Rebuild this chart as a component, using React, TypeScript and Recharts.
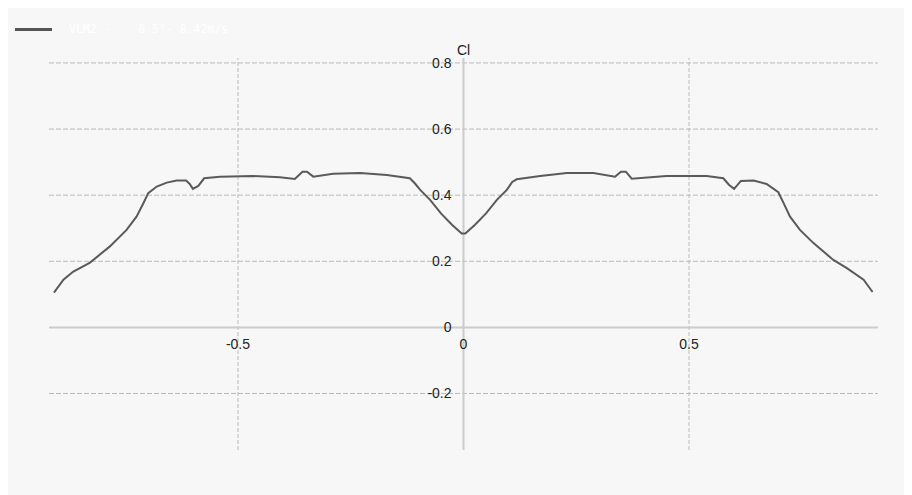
import React from 'react';
import { LineChart, Line, XAxis, YAxis, ReferenceLine } from 'recharts';

// spanwise position (y/b) and local lift coefficient
const spanX = [
  -0.908, -0.887, -0.865, -0.828, -0.784, -0.747, -0.725, -0.71, -0.699, -0.68,
  -0.658, -0.636, -0.615, -0.607, -0.6, -0.588, -0.575, -0.54, -0.466, -0.407,
  -0.374, -0.357, -0.347, -0.333, -0.289, -0.229, -0.17, -0.119, -0.108, -0.096,
  -0.074, -0.05, -0.025, -0.004, 0.004, 0.025, 0.05, 0.074, 0.096, 0.108,
  0.118, 0.17, 0.229, 0.288, 0.336, 0.349, 0.36, 0.373, 0.45, 0.539,
  0.576, 0.589, 0.6, 0.615, 0.643, 0.672, 0.698, 0.71, 0.724, 0.746,
  0.776, 0.82, 0.85, 0.887, 0.907,
];
const clValues = [
  0.105, 0.144, 0.169, 0.196, 0.245, 0.295, 0.335, 0.375, 0.406, 0.426,
  0.438, 0.444, 0.444, 0.434, 0.419, 0.428, 0.451, 0.456, 0.458, 0.454,
  0.449, 0.471, 0.471, 0.456, 0.465, 0.467, 0.461, 0.451, 0.436, 0.416,
  0.386, 0.345, 0.31, 0.284, 0.284, 0.31, 0.345, 0.386, 0.416, 0.44,
  0.448, 0.458, 0.467, 0.467, 0.456, 0.471, 0.471, 0.45, 0.458, 0.458,
  0.451, 0.431, 0.419, 0.443, 0.444, 0.434, 0.409, 0.375, 0.335, 0.295,
  0.255, 0.204, 0.179, 0.144, 0.107,
];
const xTicks = [-0.5, 0, 0.5];
const yTicks = [-0.2, 0, 0.2, 0.4, 0.6, 0.8];
const legendLabel = 'VLM2 -    8.5°- 8.42m/s';

const data = spanX.map((x, i) => ({ x, cl: clValues[i] }));

const W = 904;
const H = 487;
const margin = { top: 50, right: 34, bottom: 44, left: 40 };
const xDomain: [number, number] = [-0.919, 0.919];
const yDomain: [number, number] = [-0.371, 0.815];

// plot box (axes take 1px each)
const plotLeft = margin.left + 1;
const plotW = W - plotLeft - margin.right;
const plotH = H - margin.top - margin.bottom - 1;
const zeroX = plotLeft + ((0 - xDomain[0]) / (xDomain[1] - xDomain[0])) * plotW;
const zeroY = margin.top + ((yDomain[1] - 0) / (yDomain[1] - yDomain[0])) * plotH;

const font = '"Liberation Sans", Arial, sans-serif';
const bg = '#f7f7f7';
const gridColor = '#bbb';

function XTick({ x, payload }: any) {
  return (
    <text x={x} y={zeroY + 17} textAnchor="middle" dominantBaseline="central"
      fontFamily={font} fontSize={14} fill="#222">
      {String(payload.value)}
    </text>
  );
}

function YTick({ y, payload }: any) {
  return (
    <text x={zeroX - 12} y={y} textAnchor="end" dominantBaseline="central"
      fontFamily={font} fontSize={14} fill="#222">
      {String(payload.value)}
    </text>
  );
}

export default function App() {
  return (
    <div style={{ position: 'relative', width: W, height: H, background: bg }}>
      <div style={{ position: 'absolute', left: 7, top: 20, width: 37, height: 3, background: '#555' }} />
      <div style={{
        position: 'absolute', left: 61, top: 14, whiteSpace: 'pre', color: '#ffffff',
        fontFamily: '"DejaVu Sans Mono", monospace', fontSize: 11.5,
      }}>
        {legendLabel}
      </div>
      <LineChart width={W} height={H} data={data} margin={margin}>
        {yTicks.filter((v) => v !== 0).map((v) => (
          <ReferenceLine key={'h' + v} y={v} stroke={gridColor} strokeDasharray="5 2" />
        ))}
        {xTicks.filter((v) => v !== 0).map((v) => (
          <ReferenceLine key={'v' + v} x={v} stroke={gridColor} strokeDasharray="4 2" />
        ))}
        <ReferenceLine y={0} stroke="#ccc" strokeWidth={2} />
        <ReferenceLine x={0} stroke="#ccc" strokeWidth={2}
          label={{ value: 'Cl', position: 'top', offset: 3, fontFamily: font, fontSize: 14, fill: '#222' }} />
        <XAxis type="number" dataKey="x" domain={xDomain} ticks={xTicks} height={1}
          axisLine={false} tickLine={false} tick={<XTick />} allowDataOverflow interval={0} />
        <YAxis type="number" domain={yDomain} ticks={yTicks} width={1}
          axisLine={false} tickLine={false} tick={<YTick />} allowDataOverflow interval={0} />
        <Line type="linear" dataKey="cl" stroke="#5a5a5a" strokeWidth={2} dot={false}
          isAnimationActive={false} />
      </LineChart>
    </div>
  );
}
